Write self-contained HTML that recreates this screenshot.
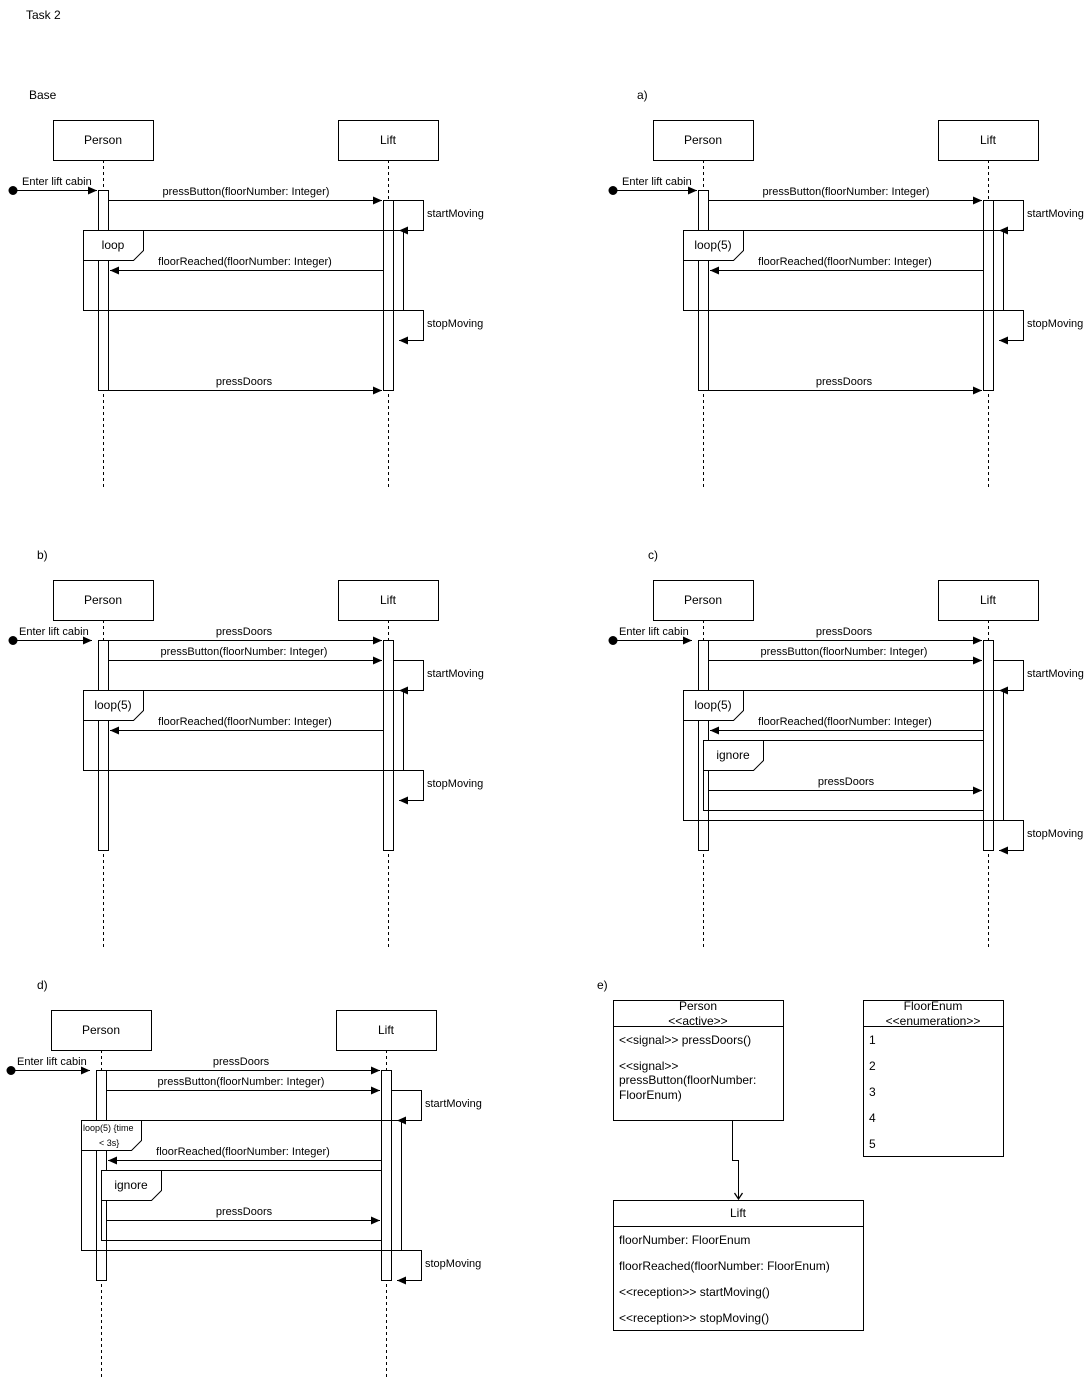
<!DOCTYPE html>
<html><head><meta charset="utf-8"><style>
html,body{margin:0;padding:0;background:#fff}
svg{display:block}
text{font-family:"Liberation Sans",Arial,sans-serif;fill:#000}
.m{font-size:11px;text-anchor:middle}
.l{font-size:11px}
.b{font-size:12px;text-anchor:middle}
.t{font-size:12px}
</style></head><body>
<svg width="1084" height="1381" viewBox="0 0 1084 1381" xmlns="http://www.w3.org/2000/svg">
<defs>
<marker id="a" markerWidth="10" markerHeight="10" refX="9" refY="5" orient="auto" markerUnits="userSpaceOnUse"><path d="M0,1 L9,5 L0,9 Z" fill="#000"/></marker>
<marker id="o" markerWidth="12" markerHeight="12" refX="6" refY="10" orient="0" markerUnits="userSpaceOnUse"><path d="M2,4 L6,10 L10,4" fill="none" stroke="#000" stroke-width="1.3"/></marker>
</defs>
<g fill="none" stroke="#000" stroke-width="1">
<!-- BASE -->
<rect x="53.5" y="120.5" width="100" height="40" fill="#fff"/>
<rect x="338.5" y="120.5" width="100" height="40" fill="#fff"/>
<line x1="103.5" y1="160" x2="103.5" y2="487" stroke-dasharray="3,3"/>
<line x1="388.5" y1="160" x2="388.5" y2="487" stroke-dasharray="3,3"/>
<rect x="98.5" y="190.5" width="10" height="200" fill="#fff"/>
<rect x="383.5" y="200.5" width="10" height="190" fill="#fff"/>
<line x1="403.5" y1="230" x2="403.5" y2="310"/>
<rect x="83.5" y="230.5" width="320" height="80"/>
<path d="M83.5,230.5 H143.5 V250.5 L133.5,260.5 H83.5 Z" fill="#fff"/>
<circle cx="13" cy="190.5" r="4" fill="#000"/>
<line x1="13" y1="190.5" x2="97" y2="190.5" marker-end="url(#a)"/>
<line x1="108.5" y1="200.5" x2="382" y2="200.5" marker-end="url(#a)"/>
<path d="M393.5,200.5 H423.5 V230.5 H399" marker-end="url(#a)"/>
<line x1="383" y1="270.5" x2="110" y2="270.5" marker-end="url(#a)"/>
<path d="M393.5,310.5 H423.5 V340.5 H399" marker-end="url(#a)"/>
<line x1="108.5" y1="390.5" x2="382" y2="390.5" marker-end="url(#a)"/>

<!-- A -->
<rect x="653.5" y="120.5" width="100" height="40" fill="#fff"/>
<rect x="938.5" y="120.5" width="100" height="40" fill="#fff"/>
<line x1="703.5" y1="160" x2="703.5" y2="487" stroke-dasharray="3,3"/>
<line x1="988.5" y1="160" x2="988.5" y2="487" stroke-dasharray="3,3"/>
<rect x="698.5" y="190.5" width="10" height="200" fill="#fff"/>
<rect x="983.5" y="200.5" width="10" height="190" fill="#fff"/>
<line x1="1003.5" y1="230" x2="1003.5" y2="310"/>
<rect x="683.5" y="230.5" width="320" height="80"/>
<path d="M683.5,230.5 H743.5 V250.5 L733.5,260.5 H683.5 Z" fill="#fff"/>
<circle cx="613" cy="190.5" r="4" fill="#000"/>
<line x1="613" y1="190.5" x2="697" y2="190.5" marker-end="url(#a)"/>
<line x1="708.5" y1="200.5" x2="982" y2="200.5" marker-end="url(#a)"/>
<path d="M993.5,200.5 H1023.5 V230.5 H999" marker-end="url(#a)"/>
<line x1="983" y1="270.5" x2="710" y2="270.5" marker-end="url(#a)"/>
<path d="M993.5,310.5 H1023.5 V340.5 H999" marker-end="url(#a)"/>
<line x1="708.5" y1="390.5" x2="982" y2="390.5" marker-end="url(#a)"/>

<!-- B -->
<rect x="53.5" y="580.5" width="100" height="40" fill="#fff"/>
<rect x="338.5" y="580.5" width="100" height="40" fill="#fff"/>
<line x1="103.5" y1="620" x2="103.5" y2="947" stroke-dasharray="3,3"/>
<line x1="388.5" y1="620" x2="388.5" y2="947" stroke-dasharray="3,3"/>
<rect x="98.5" y="640.5" width="10" height="210" fill="#fff"/>
<rect x="383.5" y="640.5" width="10" height="210" fill="#fff"/>
<line x1="403.5" y1="690" x2="403.5" y2="770"/>
<rect x="83.5" y="690.5" width="320" height="80"/>
<path d="M83.5,690.5 H143.5 V710.5 L133.5,720.5 H83.5 Z" fill="#fff"/>
<circle cx="13" cy="640.5" r="4" fill="#000"/>
<line x1="13" y1="640.5" x2="92" y2="640.5" marker-end="url(#a)"/>
<line x1="108.5" y1="640.5" x2="382" y2="640.5" marker-end="url(#a)"/>
<line x1="108.5" y1="660.5" x2="382" y2="660.5" marker-end="url(#a)"/>
<path d="M393.5,660.5 H423.5 V690.5 H399" marker-end="url(#a)"/>
<line x1="383" y1="730.5" x2="110" y2="730.5" marker-end="url(#a)"/>
<path d="M393.5,770.5 H423.5 V800.5 H399" marker-end="url(#a)"/>

<!-- C -->
<rect x="653.5" y="580.5" width="100" height="40" fill="#fff"/>
<rect x="938.5" y="580.5" width="100" height="40" fill="#fff"/>
<line x1="703.5" y1="620" x2="703.5" y2="947" stroke-dasharray="3,3"/>
<line x1="988.5" y1="620" x2="988.5" y2="947" stroke-dasharray="3,3"/>
<rect x="698.5" y="640.5" width="10" height="210" fill="#fff"/>
<rect x="983.5" y="640.5" width="10" height="210" fill="#fff"/>
<line x1="1003.5" y1="690" x2="1003.5" y2="820"/>
<rect x="683.5" y="690.5" width="320" height="130"/>
<path d="M683.5,690.5 H743.5 V710.5 L733.5,720.5 H683.5 Z" fill="#fff"/>
<rect x="703.5" y="740.5" width="280" height="70"/>
<path d="M703.5,740.5 H763.5 V760.5 L753.5,770.5 H703.5 Z" fill="#fff"/>
<circle cx="613" cy="640.5" r="4" fill="#000"/>
<line x1="613" y1="640.5" x2="692" y2="640.5" marker-end="url(#a)"/>
<line x1="708.5" y1="640.5" x2="982" y2="640.5" marker-end="url(#a)"/>
<line x1="708.5" y1="660.5" x2="982" y2="660.5" marker-end="url(#a)"/>
<path d="M993.5,660.5 H1023.5 V690.5 H999" marker-end="url(#a)"/>
<line x1="983" y1="730.5" x2="710" y2="730.5" marker-end="url(#a)"/>
<line x1="708.5" y1="790.5" x2="982" y2="790.5" marker-end="url(#a)"/>
<path d="M993.5,820.5 H1023.5 V850.5 H999" marker-end="url(#a)"/>

<!-- D -->
<rect x="51.5" y="1010.5" width="100" height="40" fill="#fff"/>
<rect x="336.5" y="1010.5" width="100" height="40" fill="#fff"/>
<line x1="101.5" y1="1050" x2="101.5" y2="1377" stroke-dasharray="3,3"/>
<line x1="386.5" y1="1050" x2="386.5" y2="1377" stroke-dasharray="3,3"/>
<rect x="96.5" y="1070.5" width="10" height="210" fill="#fff"/>
<rect x="381.5" y="1070.5" width="10" height="210" fill="#fff"/>
<line x1="401.5" y1="1120" x2="401.5" y2="1250"/>
<rect x="81.5" y="1120.5" width="320" height="130"/>
<path d="M81.5,1120.5 H141.5 V1140.5 L131.5,1150.5 H81.5 Z" fill="#fff"/>
<rect x="101.5" y="1170.5" width="280" height="70"/>
<path d="M101.5,1170.5 H161.5 V1190.5 L151.5,1200.5 H101.5 Z" fill="#fff"/>
<circle cx="11" cy="1070.5" r="4" fill="#000"/>
<line x1="11" y1="1070.5" x2="90" y2="1070.5" marker-end="url(#a)"/>
<line x1="106.5" y1="1070.5" x2="380" y2="1070.5" marker-end="url(#a)"/>
<line x1="106.5" y1="1090.5" x2="380" y2="1090.5" marker-end="url(#a)"/>
<path d="M391.5,1090.5 H421.5 V1120.5 H397" marker-end="url(#a)"/>
<line x1="381" y1="1160.5" x2="108" y2="1160.5" marker-end="url(#a)"/>
<line x1="106.5" y1="1220.5" x2="380" y2="1220.5" marker-end="url(#a)"/>
<path d="M391.5,1250.5 H421.5 V1280.5 H397" marker-end="url(#a)"/>

<!-- E -->
<rect x="613.5" y="1000.5" width="170" height="120" fill="#fff"/>
<line x1="613.5" y1="1026.5" x2="783.5" y2="1026.5"/>
<rect x="863.5" y="1000.5" width="140" height="156" fill="#fff"/>
<line x1="863.5" y1="1026.5" x2="1003.5" y2="1026.5"/>
<rect x="613.5" y="1200.5" width="250" height="130" fill="#fff"/>
<line x1="613.5" y1="1226.5" x2="863.5" y2="1226.5"/>
<path d="M732.5,1120.5 V1160.5 H738.5 V1199" marker-end="url(#o)"/>
</g>

<text class="t" x="26" y="19">Task 2</text>
<text class="t" x="29" y="99">Base</text>
<text class="t" x="637" y="99">a)</text>
<text class="t" x="37" y="559">b)</text>
<text class="t" x="648" y="559">c)</text>
<text class="t" x="37" y="989">d)</text>
<text class="t" x="597" y="989">e)</text>

<!-- Base labels -->
<text class="b" x="103" y="144">Person</text>
<text class="b" x="388" y="144">Lift</text>
<text class="l" x="22" y="185">Enter lift cabin</text>
<text class="m" x="246" y="195">pressButton(floorNumber: Integer)</text>
<text class="l" x="427" y="217">startMoving</text>
<text class="b" x="113" y="249">loop</text>
<text class="m" x="245" y="265">floorReached(floorNumber: Integer)</text>
<text class="l" x="427" y="327">stopMoving</text>
<text class="m" x="244" y="385">pressDoors</text>

<!-- A labels -->
<text class="b" x="703" y="144">Person</text>
<text class="b" x="988" y="144">Lift</text>
<text class="l" x="622" y="185">Enter lift cabin</text>
<text class="m" x="846" y="195">pressButton(floorNumber: Integer)</text>
<text class="l" x="1027" y="217">startMoving</text>
<text class="b" x="713" y="249">loop(5)</text>
<text class="m" x="845" y="265">floorReached(floorNumber: Integer)</text>
<text class="l" x="1027" y="327">stopMoving</text>
<text class="m" x="844" y="385">pressDoors</text>

<!-- B labels -->
<text class="b" x="103" y="604">Person</text>
<text class="b" x="388" y="604">Lift</text>
<text class="l" x="19" y="635">Enter lift cabin</text>
<text class="m" x="244" y="635">pressDoors</text>
<text class="m" x="244" y="655">pressButton(floorNumber: Integer)</text>
<text class="l" x="427" y="677">startMoving</text>
<text class="b" x="113" y="709">loop(5)</text>
<text class="m" x="245" y="725">floorReached(floorNumber: Integer)</text>
<text class="l" x="427" y="787">stopMoving</text>

<!-- C labels -->
<text class="b" x="703" y="604">Person</text>
<text class="b" x="988" y="604">Lift</text>
<text class="l" x="619" y="635">Enter lift cabin</text>
<text class="m" x="844" y="635">pressDoors</text>
<text class="m" x="844" y="655">pressButton(floorNumber: Integer)</text>
<text class="l" x="1027" y="677">startMoving</text>
<text class="b" x="713" y="709">loop(5)</text>
<text class="m" x="845" y="725">floorReached(floorNumber: Integer)</text>
<text class="b" x="733" y="759">ignore</text>
<text class="m" x="846" y="785">pressDoors</text>
<text class="l" x="1027" y="837">stopMoving</text>

<!-- D labels -->
<text class="b" x="101" y="1034">Person</text>
<text class="b" x="386" y="1034">Lift</text>
<text class="l" x="17" y="1065">Enter lift cabin</text>
<text class="m" x="241" y="1065">pressDoors</text>
<text class="m" x="241" y="1085">pressButton(floorNumber: Integer)</text>
<text class="l" x="425" y="1107">startMoving</text>
<text style="font-size:9px" x="83" y="1131">loop(5) {time</text>
<text style="font-size:9px" x="99" y="1146">&lt; 3s}</text>
<text class="m" x="243" y="1155">floorReached(floorNumber: Integer)</text>
<text class="b" x="131" y="1189">ignore</text>
<text class="m" x="244" y="1215">pressDoors</text>
<text class="l" x="425" y="1267">stopMoving</text>

<!-- E labels -->
<text class="b" x="698" y="1010">Person</text>
<text class="b" x="698" y="1025">&lt;&lt;active&gt;&gt;</text>
<text class="t" x="619" y="1044">&lt;&lt;signal&gt;&gt; pressDoors()</text>
<text class="t" x="619" y="1070">&lt;&lt;signal&gt;&gt;</text>
<text class="t" x="619" y="1084">pressButton(floorNumber:</text>
<text class="t" x="619" y="1099">FloorEnum)</text>
<text class="b" x="933" y="1010">FloorEnum</text>
<text class="b" x="933" y="1025">&lt;&lt;enumeration&gt;&gt;</text>
<text class="t" x="869" y="1044">1</text>
<text class="t" x="869" y="1070">2</text>
<text class="t" x="869" y="1096">3</text>
<text class="t" x="869" y="1122">4</text>
<text class="t" x="869" y="1148">5</text>
<text class="b" x="738" y="1217">Lift</text>
<text class="t" x="619" y="1244">floorNumber: FloorEnum</text>
<text class="t" x="619" y="1270">floorReached(floorNumber: FloorEnum)</text>
<text class="t" x="619" y="1296">&lt;&lt;reception&gt;&gt; startMoving()</text>
<text class="t" x="619" y="1322">&lt;&lt;reception&gt;&gt; stopMoving()</text>
</svg>
</body></html>
